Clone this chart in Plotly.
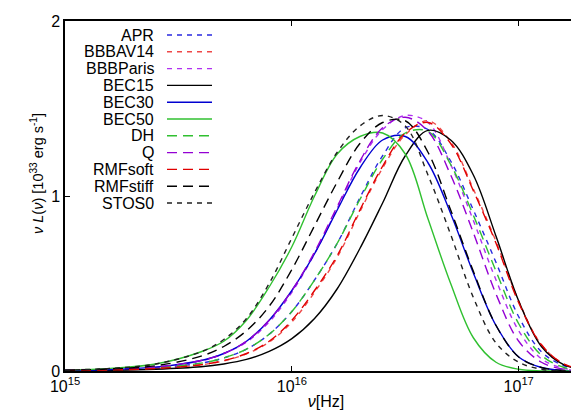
import plotly.graph_objects as go

# frequency grid [Hz]
nu = [1.0e15, 1.585e15, 2.512e15, 3.981e15, 5.012e15, 6.310e15, 7.943e15,
      1.0e16, 1.259e16, 1.585e16, 1.995e16, 2.512e16, 3.162e16, 3.981e16,
      5.012e16, 6.310e16, 7.943e16, 1.0e17, 1.259e17, 1.585e17, 1.995e17]

# nu L(nu) in units of 1e33 erg/s
APR      = [0.003, 0.008, 0.018, 0.045, 0.075, 0.125, 0.210, 0.340, 0.520, 0.730, 0.990, 1.230, 1.390, 1.380, 1.200, 0.920, 0.620, 0.310, 0.110, 0.030, 0.005]
BBBAV14  = [0.002, 0.006, 0.014, 0.035, 0.058, 0.098, 0.165, 0.280, 0.450, 0.650, 0.910, 1.160, 1.350, 1.430, 1.310, 1.040, 0.740, 0.400, 0.150, 0.040, 0.008]
BBBParis = [0.004, 0.010, 0.022, 0.058, 0.100, 0.165, 0.280, 0.450, 0.670, 0.930, 1.190, 1.380, 1.460, 1.420, 1.180, 0.860, 0.520, 0.230, 0.070, 0.015, 0.003]
BEC15    = [0.001, 0.004, 0.010, 0.024, 0.040, 0.066, 0.112, 0.185, 0.300, 0.470, 0.700, 0.960, 1.230, 1.375, 1.320, 1.120, 0.770, 0.400, 0.140, 0.035, 0.006]
BEC30    = [0.003, 0.009, 0.022, 0.060, 0.100, 0.170, 0.290, 0.460, 0.670, 0.920, 1.160, 1.320, 1.340, 1.190, 0.900, 0.560, 0.260, 0.080, 0.020, 0.003, 0.000]
BEC50    = [0.005, 0.015, 0.040, 0.110, 0.170, 0.290, 0.480, 0.710, 1.000, 1.240, 1.340, 1.360, 1.240, 0.870, 0.500, 0.190, 0.050, 0.010, 0.001, 0.000, 0.000]
DH       = [0.003, 0.008, 0.018, 0.045, 0.075, 0.125, 0.210, 0.340, 0.520, 0.730, 0.980, 1.210, 1.360, 1.370, 1.180, 0.890, 0.570, 0.270, 0.090, 0.020, 0.004]
Q        = [0.004, 0.010, 0.023, 0.060, 0.100, 0.170, 0.290, 0.460, 0.680, 0.940, 1.200, 1.390, 1.450, 1.370, 1.120, 0.790, 0.440, 0.170, 0.050, 0.010, 0.002]
RMFsoft  = [0.002, 0.006, 0.014, 0.036, 0.060, 0.100, 0.170, 0.290, 0.460, 0.660, 0.920, 1.170, 1.360, 1.420, 1.300, 1.030, 0.730, 0.390, 0.150, 0.040, 0.008]
RMFstiff = [0.004, 0.012, 0.030, 0.085, 0.140, 0.230, 0.370, 0.580, 0.830, 1.080, 1.300, 1.420, 1.430, 1.250, 0.920, 0.570, 0.260, 0.080, 0.020, 0.003, 0.000]
STOS0    = [0.005, 0.015, 0.040, 0.110, 0.180, 0.300, 0.500, 0.760, 1.020, 1.250, 1.400, 1.460, 1.400, 1.120, 0.780, 0.420, 0.160, 0.050, 0.010, 0.000, 0.000]

names = ["APR", "BBBAV14", "BBBParis", "BEC15", "BEC30", "BEC50",
         "DH", "Q", "RMFsoft", "RMFstiff", "STOS0"]
series = [APR, BBBAV14, BBBParis, BEC15, BEC30, BEC50, DH, Q, RMFsoft, RMFstiff, STOS0]

x_tickvals = [1e15, 1e16, 1e17]
x_ticktext = ["10<sup>15</sup>", "10<sup>16</sup>", "10<sup>17</sup>"]
y_tickvals = [0, 1, 2]

SHORT = "5px,5px"
LONG = "10px,6px"
styles = {
    "APR": ("#2a2ae0", SHORT),
    "BBBAV14": ("#ee4848", SHORT),
    "BBBParis": ("#b030f0", SHORT),
    "BEC15": ("#000000", "solid"),
    "BEC30": ("#0000d0", "solid"),
    "BEC50": ("#30c030", "solid"),
    "DH": ("#30c030", LONG),
    "Q": ("#9400d3", LONG),
    "RMFsoft": ("#e00000", LONG),
    "RMFstiff": ("#000000", LONG),
    "STOS0": ("#202020", SHORT),
}

fig = go.Figure()
for name, ys in zip(names, series):
    col, dash = styles[name]
    fig.add_trace(go.Scatter(x=nu, y=ys, mode="lines", name=name,
                             line=dict(color=col, dash=dash, width=1.4, shape="spline", smoothing=1.0),
                             showlegend=False))

# invisible trace to carry the right-hand y axis ticks
fig.add_trace(go.Scatter(x=[nu[0]], y=[0], yaxis="y2", mode="lines",
                         line=dict(width=0), showlegend=False, hoverinfo="skip"))

W, H = 579, 412
L, R, T, B = 57, 0, 13, 49
pw, ph = W - L - R, H - T - B

def px_x(px):
    return (px - L) / pw

def px_y(py):
    return (H - B - py) / ph

# custom legend (text right, sample line on the right as in the original)
for i, name in enumerate(names):
    col, dash = styles[name]
    yy = px_y(27 + 16.8 * i)
    fig.add_annotation(x=px_x(148), y=yy, xref="paper", yref="paper", text=name,
                       showarrow=False, xanchor="right", yanchor="middle",
                       font=dict(size=16, color="black", family="Liberation Sans, Arial"))
    fig.add_shape(type="line", xref="paper", yref="paper",
                  x0=px_x(159), x1=px_x(204), y0=yy, y1=yy,
                  line=dict(color=col, dash=dash, width=1.4))

# y axis title
fig.add_annotation(x=px_x(29), y=px_y(166), xref="paper", yref="paper",
                   text="<i>ν L</i>(<i>ν</i>) [10<sup>33</sup> erg s<sup>-1</sup>]",
                   textangle=-90, showarrow=False, xanchor="center", yanchor="middle",
                   font=dict(size=14.5, color="black", family="Liberation Sans, Arial"))

fig.update_layout(
    width=W, height=H, margin=dict(l=L, r=R, t=T, b=B),
    plot_bgcolor="white", paper_bgcolor="white",
    font=dict(family="Liberation Sans, Arial", size=16, color="black"),
    xaxis=dict(type="log", range=[15, 17.301], showgrid=False, zeroline=False,
               showline=True, linecolor="black", linewidth=1.5, mirror="ticks",
               ticks="inside", ticklen=5, tickcolor="black",
               tickvals=x_tickvals, ticktext=x_ticktext, tickfont=dict(size=16),
               title=dict(text="<i>ν</i>[Hz]", standoff=2, font=dict(size=16))),
    yaxis=dict(range=[0, 2], showgrid=False, zeroline=False,
               showline=True, linecolor="black", linewidth=1.5, mirror=False,
               ticks="inside", ticklen=5, tickcolor="black",
               tickvals=y_tickvals, ticktext=["0", "1", "2"], tickfont=dict(size=16)),
    yaxis2=dict(range=[0, 2], overlaying="y", side="right", showgrid=False, zeroline=False,
                showline=False, ticks="inside", ticklen=5, tickcolor="black",
                tickvals=[1], showticklabels=False),
)

fig.write_html("out.html")
